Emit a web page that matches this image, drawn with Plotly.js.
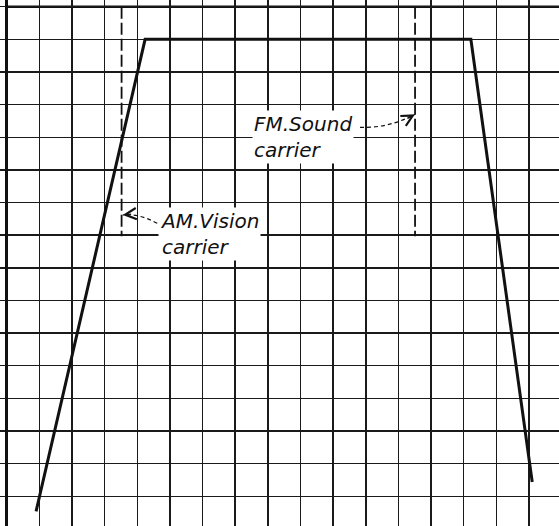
<!DOCTYPE html>
<html><head><meta charset="utf-8">
<script src="https://cdn.plot.ly/plotly-3.0.1.min.js"></script>
<style>html,body{margin:0;padding:0;background:#fff}</style>
</head><body><div id="chart" style="width:559px;height:526px"></div>
<script>
// Pass-band response curve (grid units)
const responseX = [0.90, 4.24, 14.22, 16.10];
const responseY = [-0.46, 14, 14, 0.44];
// Carrier markers
const carrierLabels = ["AM.Vision<br>carrier", "FM.Sound<br>carrier"];
const carrierX = [3.52, 12.51];
const carrierTop = [15, 15];
const carrierBottom = [7.97, 7.97];
// Label anchors (grid units)
const labelX = [4.64, 7.5];
const labelY = [8.04, 11.0];
// Curved pointer: start, control, tip
const pointerStartX = [4.613, 10.824];
const pointerStartY = [8.364, 11.305];
const pointerCtrlX = [4.023, 11.682];
const pointerCtrlY = [8.679, 11.268];
const pointerTipX = [3.554, 12.509];
const pointerTipY = [8.618, 11.703];
const headAx = [10, -9];
const headAy = [-1, 5];
// Grid
const gridTopY = 15;

const traces = [{
  x: responseX, y: responseY, mode: 'lines', type: 'scatter',
  line: {color: '#111', width: 3}, hoverinfo: 'skip'
}];
carrierX.forEach((cx, i) => {
  traces.push({
    x: [cx, cx], y: [carrierTop[i], carrierBottom[i]], mode: 'lines', type: 'scatter',
    line: {color: '#111', width: 1.8, dash: '12px,4px'}, hoverinfo: 'skip'
  });
});

const shapes = [{
  type: 'line', xref: 'x', yref: 'y', x0: 0, x1: 16.92, y0: gridTopY, y1: gridTopY,
  line: {color: '#111', width: 2.5}, layer: 'below'
}];
const annotations = [];
carrierLabels.forEach((t, i) => {
  shapes.push({
    type: 'path', xref: 'x', yref: 'y',
    path: `M ${pointerStartX[i]},${pointerStartY[i]} Q ${pointerCtrlX[i]},${pointerCtrlY[i]} ${pointerTipX[i]},${pointerTipY[i]}`,
    line: {color: '#111', width: 1.2, dash: '4px,3px'}
  });
  annotations.push({
    x: pointerTipX[i], y: pointerTipY[i], xref: 'x', yref: 'y', text: '',
    showarrow: true, arrowhead: 5, arrowsize: 2, arrowwidth: 1.1, arrowcolor: '#111',
    ax: headAx[i], ay: headAy[i], standoff: 0
  });
  annotations.push({
    x: labelX[i], y: labelY[i], xref: 'x', yref: 'y', text: t, showarrow: false,
    xanchor: 'left', yanchor: 'middle', align: 'left', bgcolor: '#fff', borderpad: 1,
    font: {family: 'DejaVu Sans', size: 20, color: '#111', style: 'italic'}
  });
});

const layout = {
  width: 559, height: 526, margin: {l: 0, r: 0, t: 0, b: 0},
  paper_bgcolor: '#fff', plot_bgcolor: '#fff', showlegend: false,
  xaxis: {range: [-0.205, 16.92], tick0: 0, dtick: 1, showgrid: true, gridcolor: '#1a1a1a', gridwidth: 1.5,
    zeroline: true, zerolinecolor: '#111', zerolinewidth: 2.5, showticklabels: false, ticks: '', fixedrange: true},
  yaxis: {range: [-0.91, 15.205], tick0: 0, dtick: 1, showgrid: true, gridcolor: '#1a1a1a', gridwidth: 1.5,
    zeroline: false, showticklabels: false, ticks: '', fixedrange: true},
  shapes: shapes, annotations: annotations
};
Plotly.newPlot('chart', traces, layout, {staticPlot: true, displayModeBar: false});
</script></body></html>
